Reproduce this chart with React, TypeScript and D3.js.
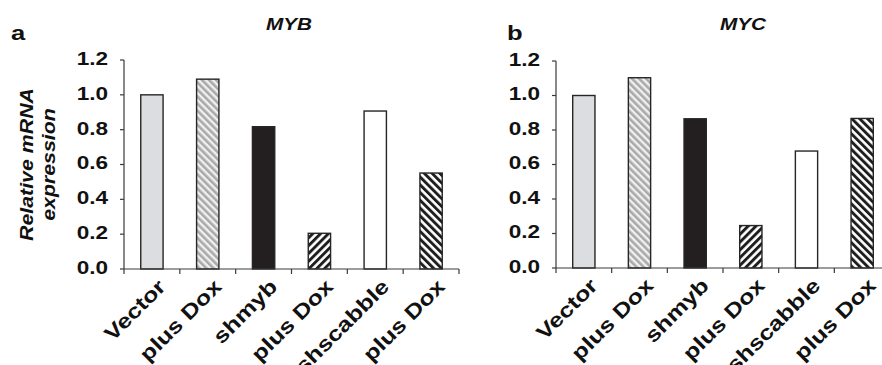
import React from 'react'
import * as d3 from 'd3'

// values
const categories = ['Vector', 'plus Dox', 'shmyb', 'plus Dox', 'shscabble', 'plus Dox']
const mybValues = [1.0, 1.09, 0.817, 0.205, 0.907, 0.551]
const mycValues = [1.0, 1.103, 0.865, 0.246, 0.678, 0.867]
const yTicks = [0, 0.2, 0.4, 0.6, 0.8, 1.0, 1.2]
const barFills = ['#dcdde0', 'url(#hatchLight)', '#231f20', 'url(#hatchUp)', '#ffffff', 'url(#hatchDown)']

const font = '"Liberation Sans", Arial, sans-serif'
const stretch = 1.22
const axisColor = '#3a3a3a'

type PanelProps = {
  values: number[],
  title: string,
  letter: string,
  x0: number,
  x1: number,
  yTop: number,
  yBottom: number,
  titleX: number,
  letterX: number,
  showYLabel: boolean
}

function Panel(props: PanelProps) {
  const { values, title, letter, x0, x1, yTop, yBottom, titleX, letterX, showYLabel } = props

  const x = d3.scaleBand<number>()
    .domain(d3.range(categories.length))
    .range([x0, x1])
    .paddingInner(0.6)
    .paddingOuter(0.3)

  const xTicks = d3.scaleBand<number>()
    .domain(d3.range(categories.length))
    .range([x0, x1])

  const y = d3.scaleLinear().domain([0, 1.2]).range([yBottom, yTop])
  const fmt = d3.format('.1f')

  return (
    <g>
      <text transform={`translate(${letterX},40) scale(${stretch},1)`}
        fontFamily={font} fontWeight="bold" fontSize={21} fill="#111">{letter}</text>
      <text transform={`translate(${titleX},30) scale(${stretch},1)`} textAnchor="middle"
        fontFamily={font} fontWeight="bold" fontStyle="italic" fontSize={17} fill="#111">{title}</text>

      {values.map((v, i) => (
        <rect key={i}
          x={x(i)}
          y={y(v)}
          width={x.bandwidth()}
          height={yBottom - y(v)}
          fill={barFills[i]}
          stroke="#262626"
          strokeWidth={1.4} />
      ))}

      {/* y axis */}
      <line x1={x0} x2={x0} y1={yTop} y2={yBottom} stroke={axisColor} strokeWidth={1.2} />
      {yTicks.map(t => (
        <g key={t}>
          <line x1={x0 - 4} x2={x0} y1={y(t)} y2={y(t)} stroke={axisColor} strokeWidth={1.2} />
          <text transform={`translate(${x0 - 16},${y(t)}) scale(${stretch},1)`} textAnchor="end"
            dominantBaseline="middle" fontFamily={font} fontWeight="bold" fontSize={18.5} fill="#111">
            {fmt(t)}
          </text>
        </g>
      ))}

      {/* x axis */}
      <line x1={x0} x2={x1} y1={yBottom} y2={yBottom} stroke={axisColor} strokeWidth={1.2} />
      {d3.range(categories.length + 1).map(i => {
        const tx = i < categories.length ? xTicks(i) : x1
        return <line key={i} x1={tx} x2={tx} y1={yBottom} y2={yBottom + 5} stroke={axisColor} strokeWidth={1.2} />
      })}
      {categories.map((c, i) => {
        const cx = xTicks(i) + xTicks.bandwidth() / 2
        return (
          <text key={i}
            transform={`translate(${cx + 15},${yBottom + 19}) rotate(-45) scale(${stretch},1)`}
            textAnchor="end" fontFamily={font} fontWeight="bold" fontSize={20.5} fill="#111">
            {c}
          </text>
        )
      })}

      {showYLabel && (
        <g fontFamily={font} fontWeight="bold" fontStyle="italic" fontSize={17.5} fill="#111" textAnchor="middle">
          <text transform={`translate(33,${(yTop + yBottom) / 2}) rotate(-90) scale(${stretch},1)`}>Relative mRNA</text>
          <text transform={`translate(55,${(yTop + yBottom) / 2}) rotate(-90) scale(${stretch},1)`}>expression</text>
        </g>
      )}
    </g>
  )
}

export default function App() {
  return (
    <svg width={882} height={365} style={{ position: 'absolute', left: 0, top: 0, background: '#fff' }}>
      <defs>
        <pattern id="hatchLight" width={5} height={5} patternUnits="userSpaceOnUse" patternTransform="rotate(-45)">
          <rect width={5} height={5} fill="#f0f0f0" />
          <rect width={2.6} height={5} fill="#a9a9a9" />
        </pattern>
        <pattern id="hatchUp" width={5.5} height={5.5} patternUnits="userSpaceOnUse" patternTransform="rotate(45)">
          <rect width={5.5} height={5.5} fill="#ffffff" />
          <rect width={2.9} height={5.5} fill="#1e1e1e" />
        </pattern>
        <pattern id="hatchDown" width={5.5} height={5.5} patternUnits="userSpaceOnUse" patternTransform="rotate(-45)">
          <rect width={5.5} height={5.5} fill="#ffffff" />
          <rect width={2.9} height={5.5} fill="#1e1e1e" />
        </pattern>
      </defs>
      <Panel values={mybValues} title="MYB" letter="a" x0={124} x1={459} yTop={60} yBottom={269}
        titleX={289} letterX={11} showYLabel={true} />
      <Panel values={mycValues} title="MYC" letter="b" x0={556} x1={890} yTop={61} yBottom={268}
        titleX={743} letterX={507} showYLabel={false} />
    </svg>
  )
}
